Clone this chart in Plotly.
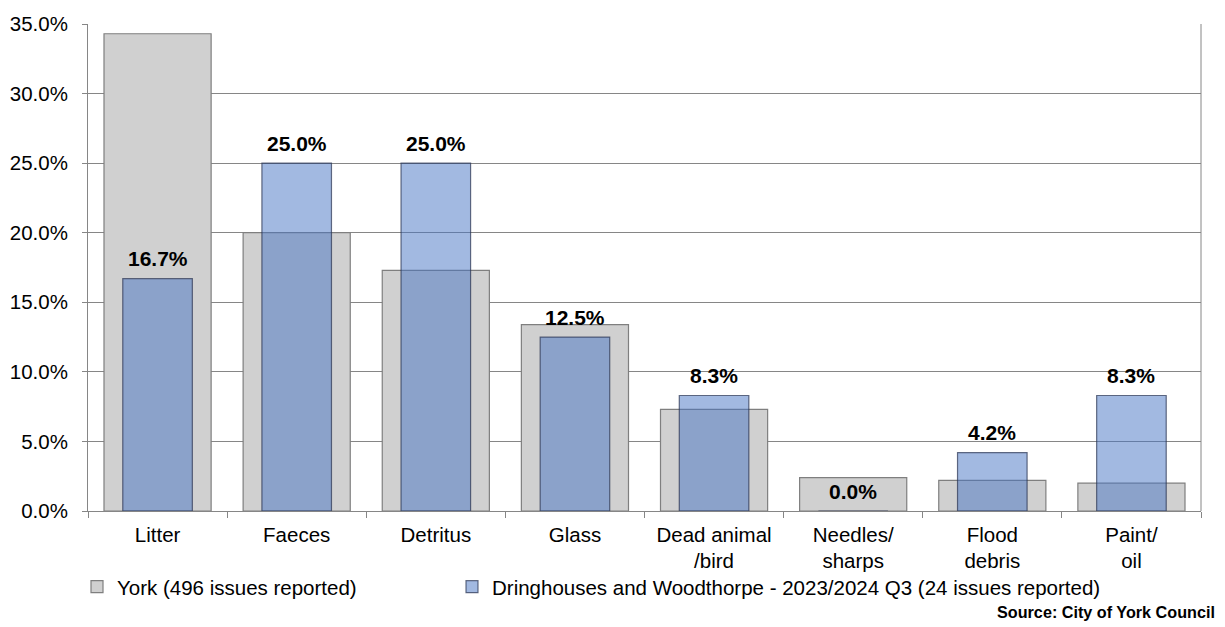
import plotly.graph_objects as go

categories = ["Litter", "Faeces", "Detritus", "Glass", "Dead animal<br>/bird",
              "Needles/<br>sharps", "Flood<br>debris", "Paint/<br>oil"]
york_values = [34.3, 20.0, 17.3, 13.4, 7.3, 2.4, 2.2, 2.0]
ward_values = [16.7, 25.0, 25.0, 12.5, 8.3, 0.0, 4.2, 8.3]
york_name = "York (496 issues reported)"
ward_name = "Dringhouses and Woodthorpe - 2023/2024 Q3 (24 issues reported)"
y_ticks = [0, 5, 10, 15, 20, 25, 30, 35]

FONT = "Liberation Sans, Arial, sans-serif"
TXT = 20.5

fig = go.Figure()
fig.add_trace(go.Bar(
    x=categories, y=york_values, name=york_name, width=0.77,
    marker=dict(color="#D0D0D0", line=dict(color="#7F7F7F", width=1.2)),
    hoverinfo="skip", legend="legend",
))
fig.add_trace(go.Bar(
    x=categories, y=ward_values, name=ward_name, width=0.5,
    marker=dict(color="rgba(70,115,195,0.5)", line=dict(color="rgba(40,50,80,0.7)", width=1.2)),
    hoverinfo="skip", legend="legend2",
))

for c, v in zip(categories, ward_values):
    fig.add_annotation(x=c, y=v, text=f"<b>{v:.1f}%</b>", showarrow=False,
                       yanchor="middle", yshift=20,
                       font=dict(family=FONT, size=21, color="#000000"))

fig.add_annotation(xref="paper", yref="paper", x=1.0145, y=-0.2075, xanchor="right", yanchor="middle",
                   text="<b>Source: City of York Council</b>", showarrow=False,
                   font=dict(family=FONT, size=16.2, color="#000000"))

legend_common = dict(orientation="h", xref="container", yref="container",
                     xanchor="left", yanchor="middle",
                     font=dict(family=FONT, size=TXT), itemclick=False,
                     bgcolor="rgba(0,0,0,0)")

fig.update_layout(
    width=1225, height=627,
    barmode="overlay",
    plot_bgcolor="white", paper_bgcolor="white",
    margin=dict(l=88, r=24, t=24, b=116, autoexpand=False),
    font=dict(family=FONT, size=TXT, color="#000000"),
    showlegend=True,
    legend=dict(x=77 / 1225, y=0.0625 + 1 / 627, **legend_common),
    legend2=dict(x=452 / 1225, y=0.0625 + 1 / 627, **legend_common),
    xaxis=dict(showgrid=False, showline=True, linecolor="#868686", linewidth=1,
               ticks="outside", ticklen=6, tickcolor="#868686", tickson="boundaries",
               tickfont=dict(family=FONT, size=TXT), ticklabelstandoff=5,
               automargin=False, fixedrange=True),
    yaxis=dict(range=[0, 35], tickvals=y_ticks, ticktext=[f"{t:.1f}%" for t in y_ticks],
               showgrid=True, gridcolor="#868686", gridwidth=1,
               showline=True, linecolor="#868686", linewidth=1,
               ticks="outside", ticklen=5, tickcolor="#868686",
               tickfont=dict(family=FONT, size=TXT), ticklabelstandoff=10,
               zeroline=False, automargin=False, fixedrange=True),
)
# right border of plot area
fig.add_shape(type="line", xref="paper", yref="paper", x0=1, x1=1, y0=0, y1=1,
              line=dict(color="#868686", width=1))

fig.write_html("out.html", config={"displayModeBar": False},
               post_script="document.body.style.margin='0';")
